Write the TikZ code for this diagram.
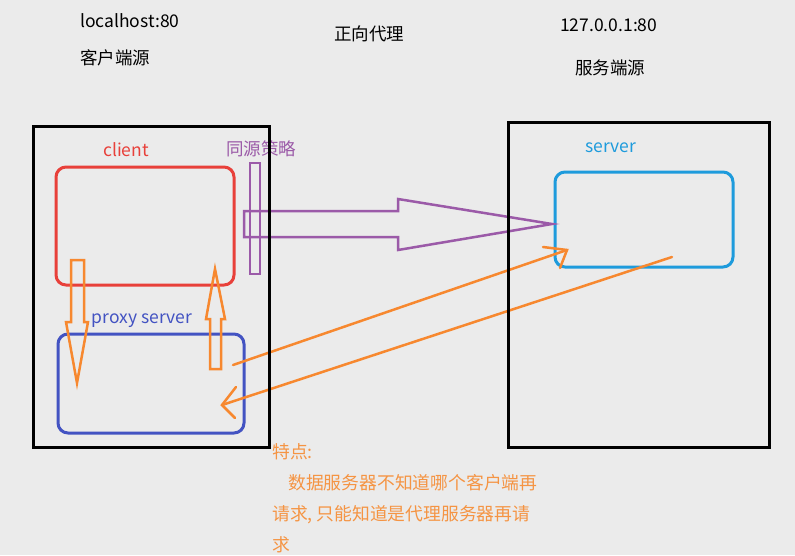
\documentclass[tikz,border=0pt]{standalone}
\usepackage{fontspec}
\setmainfont{Noto Sans CJK SC}
\usetikzlibrary{arrows.meta}
\definecolor{bg}{HTML}{EBEBEB}
\definecolor{cred}{HTML}{E8403A}
\definecolor{cblue}{HTML}{4353C2}
\definecolor{csky}{HTML}{1E9BDC}
\definecolor{cpurple}{HTML}{9B5AA8}
\definecolor{corange}{HTML}{F7882F}
\definecolor{ctext}{HTML}{F59443}
\tikzset{
  frame/.style={draw=black, line width=3pt, inner sep=0pt, outer sep=0pt},
  rbox/.style={draw=#1, line width=3pt, rounded corners=10pt, inner sep=0pt, outer sep=0pt},
  lbl/.style={font=\fontsize{17.5}{20}\selectfont, inner sep=0pt},
  hollow/.style={draw=#1, line width=2.5pt, line join=miter},
  oline/.style={draw=corange, line width=2.5pt, line cap=round},
  note/.style={font=\fontsize{17.8}{31}\selectfont, text=ctext, inner sep=0pt, anchor=north west, align=left}
}
\begin{document}
\begin{tikzpicture}[x=1pt,y=-1pt]
\fill[bg] (0,0) rectangle (795,555);
\useasboundingbox (0,0) rectangle (795,555);
% top labels
\node[lbl, anchor=west] (lh) at (80,21) {localhost:80};
\node[lbl, anchor=west] (ky) at (80,58) {客户端源};
\node[lbl, anchor=west] (zx) at (334,34) {正向代理};
\node[lbl, anchor=west] (ip) at (560,25) {127.0.0.1:80};
\node[lbl, anchor=west] (fw) at (575,68) {服务端源};
% inner boxes
\node[rbox=cred, minimum width=178pt, minimum height=118pt] (client) at (145,226) {};
\node[rbox=cblue, minimum width=186pt, minimum height=99pt] (proxy) at (151,383.5) {};
\node[rbox=csky, minimum width=178pt, minimum height=95pt] (server) at (644,219.5) {};
\node[lbl, text=cred, anchor=center] (clientl) at (126,150) {client};
\node[lbl, text=cblue, anchor=center] (proxyl) at (142,321) {proxy server};
\node[lbl, text=csky, anchor=center] (serverl) at (611,148) {server};
\node[lbl, text=cpurple, anchor=west] (tyl) at (226,149) {同源策略};
% purple barrier and big arrow
\draw[hollow=cpurple] (250,163) rectangle (260,274);
\draw[hollow=cpurple] (244,211) -- (398,211) -- (398,199) -- (552,224) -- (398,250) -- (398,237) -- (244,237) -- cycle;
% orange hollow arrows between client and proxy
\draw[hollow=corange] (71,260) -- (84,260) -- (84,322) -- (88,322) -- (77,383) -- (66,322) -- (71,322) -- cycle;
\draw[hollow=corange] (210,369) -- (221,369) -- (221,319) -- (225,319) -- (215,269) -- (206,319) -- (210,319) -- cycle;
% orange lines proxy <-> server
\coordinate (p1) at (233,365);
\coordinate (s1) at (567,250);
\coordinate (s2) at (672,257);
\coordinate (p2) at (222,405);
\draw[oline] (p1) -- (s1);
\draw[oline] (543,247) -- (s1) -- (560,268);
\draw[oline] (s2) -- (p2);
\draw[oline] (236,387) -- (p2) -- (235,418);
% frames
\node[frame, minimum width=236pt, minimum height=321pt] (left) at (151,286.5) {};
\node[frame, minimum width=261pt, minimum height=325pt] (right) at (638.5,284.5) {};
% note
\node[note] (notes) at (272,443) {特点:\\\hspace{16pt}数据服务器不知道哪个客户端再\\请求, 只能知道是代理服务器再请\\求};
\end{tikzpicture}
\end{document}
